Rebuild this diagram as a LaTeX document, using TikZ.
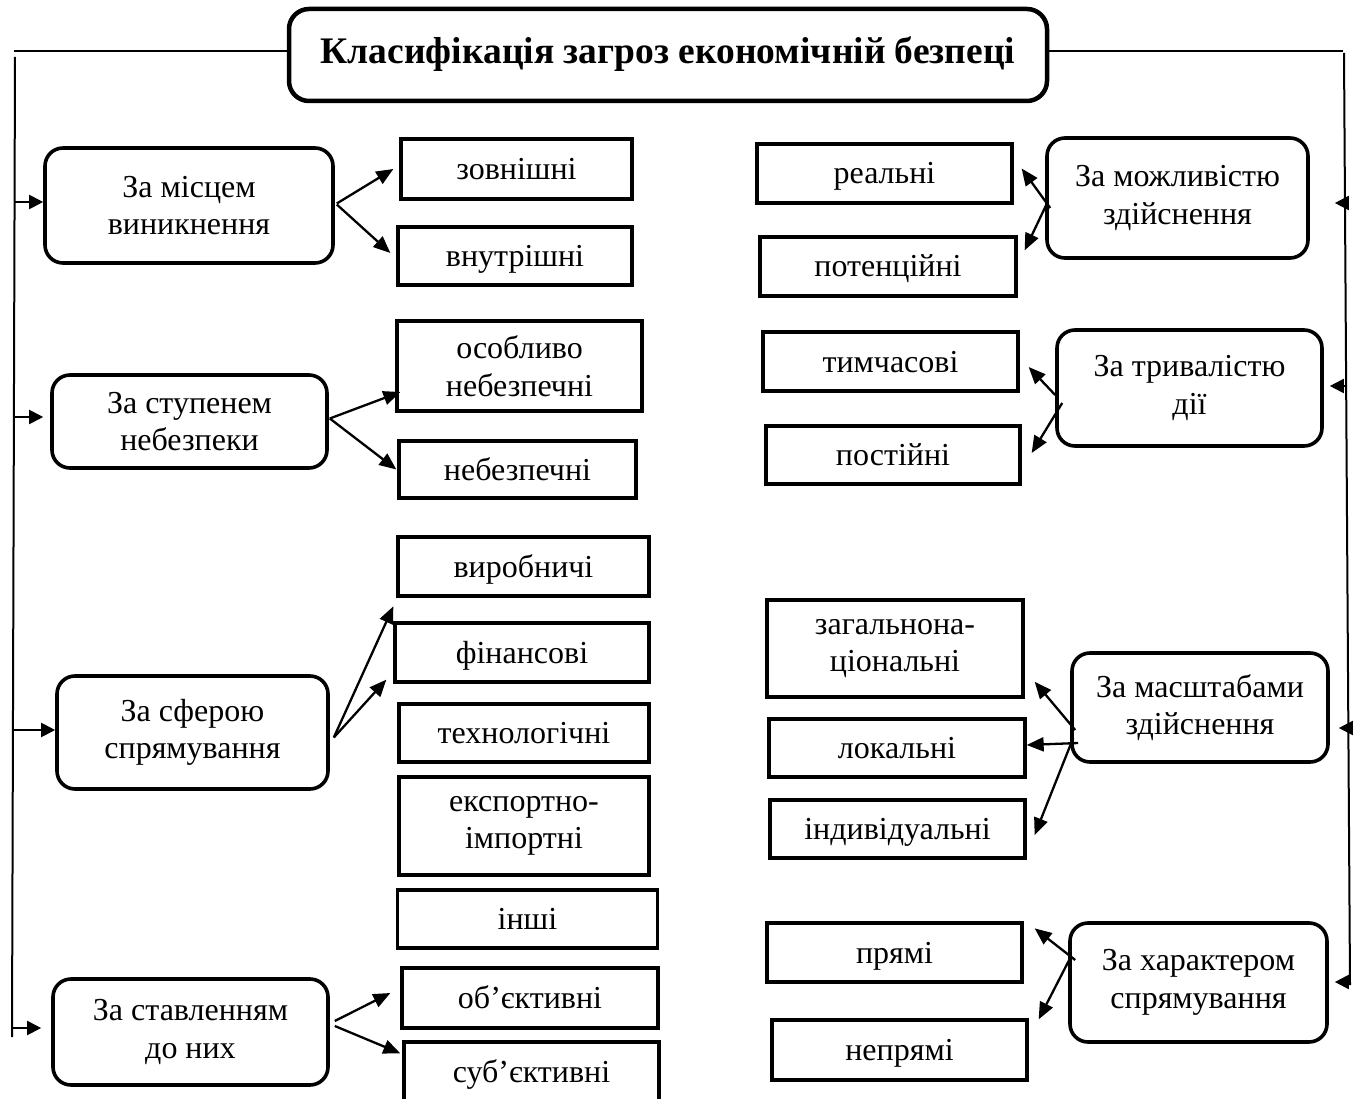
\documentclass[tikz,border=0pt]{standalone}
\usepackage{fontspec}
\setmainfont{Liberation Serif}
\usetikzlibrary{arrows.meta}
\begin{document}
\begin{tikzpicture}[x=1pt,y=-1pt,
  cat/.style={draw, line width=3.6pt, rounded corners=18pt, inner sep=0pt, align=center,
    font=\fontsize{32}{37.5}\selectfont},
  item/.style={draw, line width=3.3pt, inner sep=0pt, text height=21pt, text depth=0pt,
    font=\fontsize{32}{37.5}\selectfont},
  item2/.style={draw, line width=3.3pt, inner sep=0pt, align=center,
    font=\fontsize{32}{37.5}\selectfont},
  conn/.style={line width=2.3pt, -{Triangle[length=17pt,width=14pt]}},
  inarrow/.style={line width=2pt, -{Triangle[length=14pt,width=14pt]}},
  trunk/.style={line width=2pt}]
\useasboundingbox (0,0) rectangle (1360,1099);
\fill[white] (0,0) rectangle (1360,1099);

% title
\node[draw, line width=4.5pt, rounded corners=20pt, inner sep=0pt, minimum width=758pt, minimum height=92pt,
  font=\fontsize{37.5}{42}\selectfont\bfseries, text depth=10pt] (title) at (668,55) {Класифікація загроз економічній безпеці};

% left categories
\node[cat, minimum width=288pt, minimum height=115pt] (b1) at (189,205.5) {За місцем\\виникнення};
\node[cat, minimum width=275pt, minimum height=93pt] (b2) at (189.5,421.5) {За ступенем\\небезпеки};
\node[cat, minimum width=271pt, minimum height=113pt] (b3) at (192.5,732.5) {За сферою\\спрямування};
\node[cat, minimum width=275pt, minimum height=106pt] (b4) at (190.5,1032) {За ставленням\\до них};

% middle items
\node[item, minimum width=231pt, minimum height=60pt] (m1) at (516.5,169) {зовнішні};
\node[item, minimum width=234pt, minimum height=58pt] (m2) at (515,256) {внутрішні};
\node[item2, minimum width=245pt, minimum height=90pt] (m3) at (519.5,366) {особливо\\небезпечні};
\node[item, minimum width=237pt, minimum height=57pt] (m4) at (517.5,469.5) {небезпечні};
\node[item, minimum width=251pt, minimum height=59pt] (m5) at (523.5,566.5) {виробничі};
\node[item, minimum width=254pt, minimum height=59pt] (m6) at (522,652.5) {фінансові};
\node[item, minimum width=250pt, minimum height=58pt] (m7) at (524,733) {технологічні};
\node[item2, minimum width=250pt, minimum height=98pt] (m8) at (524,826) {експортно-\\імпортні};
\node[item, minimum width=260pt, minimum height=58pt] (m9) at (527.5,919) {інші};
\node[item, minimum width=256pt, minimum height=60pt] (m10) at (530,998) {об’єктивні};
\node[item, minimum width=255pt, minimum height=60pt] (m11) at (531.5,1072) {суб’єктивні};

% right items
\node[item, minimum width=255pt, minimum height=59pt] (r1) at (884.5,173.5) {реальні};
\node[item, minimum width=256pt, minimum height=59pt] (r2) at (888,266.5) {потенційні};
\node[item, minimum width=255pt, minimum height=59pt] (r3) at (890.5,361.5) {тимчасові};
\node[item, minimum width=254pt, minimum height=58pt] (r4) at (893,455) {постійні};
\node[item2, minimum width=256pt, minimum height=97pt] (r5) at (895,648.5) {загальнона-\\ціональні};
\node[item, minimum width=256pt, minimum height=58pt] (r6) at (897,748) {локальні};
\node[item, minimum width=255pt, minimum height=58pt] (r7) at (897.5,829) {індивідуальні};
\node[item, minimum width=255pt, minimum height=59pt] (r8) at (894.5,952.5) {прямі};
\node[item, minimum width=255pt, minimum height=60pt] (r9) at (899.5,1050) {непрямі};

% right categories
\node[cat, minimum width=261pt, minimum height=120pt] (k1) at (1177.5,198) {За можливістю\\здійснення};
\node[cat, minimum width=265pt, minimum height=116pt] (k2) at (1189.5,388) {За тривалістю\\дії};
\node[cat, minimum width=256pt, minimum height=109pt] (k3) at (1200,707.5) {За масштабами\\здійснення};
\node[cat, minimum width=257pt, minimum height=119pt] (k4) at (1198.5,982.5) {За характером\\спрямування};

% trunk coordinates
\coordinate (LT) at (14,51);
\coordinate (LV) at (15,57);
\coordinate (LB) at (12,1037);
\coordinate (RT) at (1343,51);
\coordinate (RV) at (1344,53);
\coordinate (RB) at (1350,985);
\draw[trunk] ([yshift=4pt]title.west) -- (LT);
\draw[trunk] (LV) -- (LB);
\draw[trunk] ([yshift=4pt]title.east) -- (RT);
\draw[trunk] (RV) -- (RB);

% arrows from trunks
\coordinate (la1) at (14.5,202);
\coordinate (la2) at (14,417);
\coordinate (la3) at (12.5,730);
\coordinate (la4) at (13,1028);
\draw[inarrow] (la1) -- ([yshift=3.5pt]b1.west);
\draw[inarrow] (la2) -- ([xshift=-7pt,yshift=4.5pt]b2.west);
\draw[inarrow] (la3) -- ([yshift=2.5pt]b3.west);
\draw[inarrow] (la4) -- ([xshift=-10pt,yshift=4pt]b4.west);

\coordinate (ra1) at (1345,203);
\coordinate (ra2) at (1347,386);
\coordinate (ra3) at (1349.5,728);
\coordinate (ra4) at (1351,982);
\draw[inarrow] (ra1) -- ([xshift=25pt,yshift=-5pt]k1.east);
\draw[inarrow] (ra2) -- ([xshift=6pt,yshift=2pt]k2.east);
\draw[inarrow] (ra3) -- ([xshift=9pt,yshift=-20.5pt]k3.east);
\draw[inarrow] (ra4) -- ([xshift=6pt,yshift=0.5pt]k4.east);

% left connectors
\draw[conn] ([xshift=2pt,yshift=2pt]b1.east) -- ([xshift=-6pt]m1.west);
\draw[conn] ([xshift=2pt,yshift=1pt]b1.east) -- ([xshift=-6pt,yshift=3pt]m2.west);
\draw[conn] ([xshift=1pt,yshift=3pt]b2.east) -- ([xshift=5pt,yshift=-26pt]m3.west);
\draw[conn] ([xshift=1pt,yshift=3pt]b2.east) -- ([xshift=-1pt]m4.west);
\draw[conn] ([xshift=4pt,yshift=-5pt]b3.east) -- ([yshift=15pt]m6.north west);
\draw[conn] ([xshift=4pt,yshift=-5pt]b3.east) -- ([xshift=-7pt,yshift=4pt]m6.south west);
\draw[conn] ([xshift=5pt,yshift=11pt]b4.east) -- ([xshift=-10pt,yshift=5pt]m10.west);
\draw[conn] ([xshift=5pt,yshift=6pt]b4.east) -- ([xshift=-2pt,yshift=-13pt]m11.north west);

% right connectors
\draw[conn] ([xshift=5pt,yshift=-10pt]k1.west) -- ([xshift=8pt,yshift=5pt]r1.east);
\draw[conn] ([xshift=1pt,yshift=-7pt]k1.west) -- ([xshift=7pt,yshift=-15pt]r2.north east);
\draw[conn] ([yshift=-7pt]k2.west) -- ([xshift=9pt,yshift=-5.5pt]r3.east);
\draw[conn] ([xshift=7pt,yshift=-15pt]k2.west) -- ([xshift=10pt,yshift=2pt]r4.east);
\draw[conn] ([xshift=5pt,yshift=-22.5pt]k3.west) -- ([xshift=10pt,yshift=17pt]r5.south east);
\draw[conn] ([xshift=8pt,yshift=-35.5pt]k3.west) -- ([yshift=3pt]r6.east);
\draw[conn] ([xshift=3pt,yshift=-30.5pt]k3.west) -- ([xshift=8pt,yshift=-6pt]r7.east);
\draw[conn] ([xshift=7pt,yshift=22.5pt]k4.west) -- ([xshift=11pt,yshift=-7pt]r8.north east);
\draw[conn] ([xshift=2pt,yshift=24.5pt]k4.west) -- ([xshift=10pt,yshift=-1pt]r9.north east);
\end{tikzpicture}
\end{document}
